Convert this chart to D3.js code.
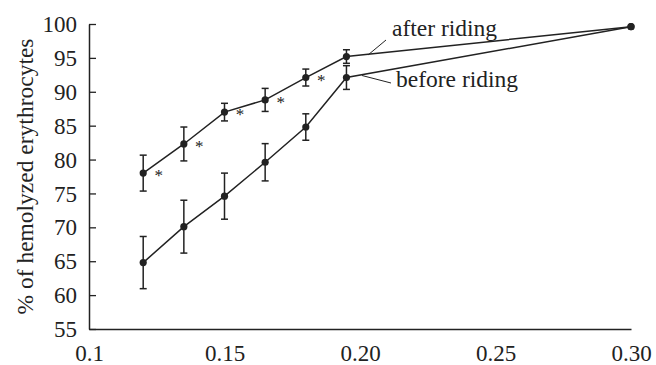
<!DOCTYPE html>
<html>
<head>
<meta charset="utf-8">
<script src="https://cdn.jsdelivr.net/npm/d3@7"></script>
<style>
html,body{margin:0;padding:0;background:#fff;}
svg{display:block;}
text{font-family:"Liberation Serif","Times New Roman",serif;fill:#222;}
</style>
</head>
<body>
<svg id="c" width="656" height="365"></svg>
<script>
// Data
const concentrations = [0.12, 0.135, 0.15, 0.165, 0.18, 0.195, 0.30];
const afterRiding = [78.0, 82.3, 87.0, 88.8, 92.1, 95.2, 99.6];
const afterErr = [2.65, 2.5, 1.3, 1.7, 1.25, 1.0, 0];
const beforeRiding = [64.8, 70.1, 74.6, 79.6, 84.8, 92.1, 99.6];
const beforeErr = [3.85, 3.9, 3.4, 2.75, 1.95, 1.75, 0];
const significant = [true, true, true, true, true, false, false];
const xTickValues = [0.1, 0.15, 0.2, 0.25, 0.3];
const xTickLabels = ["0.1", "0.15", "0.20", "0.25", "0.30"];
const yTickValues = [55, 60, 65, 70, 75, 80, 85, 90, 95, 100];
const yTitle = "% of hemolyzed erythrocytes";
const seriesLabels = ["after riding", "before riding"];

const ink = "#222";
const svg = d3.select("#c");
const x = d3.scaleLinear().domain([0.1, 0.3]).range([89, 631]);
const y = d3.scaleLinear().domain([55, 100]).range([329, 24]);

// Y axis
const yAxis = d3.axisLeft(y).tickValues(yTickValues).tickSizeInner(-7).tickSizeOuter(0).tickPadding(12);
const gy = svg.append("g").attr("transform", `translate(${x(0.1)},0)`).call(yAxis);
gy.select(".domain").attr("stroke", ink).attr("stroke-width", 1.5);
gy.selectAll(".tick line").attr("stroke", ink).attr("stroke-width", 1.3);
gy.selectAll(".tick text").attr("font-size", 23).attr("font-family", "Liberation Serif").attr("fill", ink).attr("dy", "0.33em");

// X axis
const xAxis = d3.axisBottom(x).tickValues(xTickValues).tickSize(0).tickPadding(0)
  .tickFormat((d, i) => xTickLabels[i]);
const gx = svg.append("g").attr("transform", `translate(0,${y(55)})`).call(xAxis);
gx.select(".domain").attr("stroke", ink).attr("stroke-width", 1.5);
gx.selectAll(".tick text").attr("font-size", 23).attr("font-family", "Liberation Serif").attr("fill", ink)
  .attr("y", 32).attr("dy", 0);

// Y title
svg.append("text")
  .attr("transform", `translate(33,${(24 + 329) / 2}) rotate(-90)`)
  .attr("text-anchor", "middle")
  .attr("font-size", 23.5)
  .text(yTitle);

const line = d3.line().x((d, i) => x(concentrations[i])).y(d => y(d));

function drawSeries(vals, errs) {
  const g = svg.append("g");
  g.append("path").datum(vals).attr("d", line).attr("fill", "none").attr("stroke", ink).attr("stroke-width", 1.5);
  vals.forEach((v, i) => {
    if (errs[i] > 0) {
      const cx = x(concentrations[i]);
      const y1 = y(v + errs[i]), y2 = y(v - errs[i]);
      g.append("line").attr("x1", cx).attr("x2", cx).attr("y1", y1).attr("y2", y2).attr("stroke", ink).attr("stroke-width", 1.5);
      g.append("line").attr("x1", cx - 3.5).attr("x2", cx + 3.5).attr("y1", y1).attr("y2", y1).attr("stroke", ink).attr("stroke-width", 1.5);
      g.append("line").attr("x1", cx - 3.5).attr("x2", cx + 3.5).attr("y1", y2).attr("y2", y2).attr("stroke", ink).attr("stroke-width", 1.5);
    }
  });
  g.selectAll("circle").data(vals).join("circle")
    .attr("cx", (d, i) => x(concentrations[i])).attr("cy", d => y(d)).attr("r", 3.6).attr("fill", ink);
}
drawSeries(beforeRiding, beforeErr);
drawSeries(afterRiding, afterErr);

// asterisks
afterRiding.forEach((v, i) => {
  if (significant[i]) {
    svg.append("text").attr("x", x(concentrations[i]) + 15.5).attr("y", y(v) + 8)
      .attr("text-anchor", "middle").attr("font-size", 17).text("*");
  }
});

// Series labels with leaders
svg.append("line").attr("x1", 368).attr("y1", 55).attr("x2", 386).attr("y2", 40).attr("stroke", ink).attr("stroke-width", 1);
svg.append("text").attr("x", 392).attr("y", 36).attr("font-size", 23.5).text(seriesLabels[0]);
svg.append("line").attr("x1", 362).attr("y1", 75.5).attr("x2", 391).attr("y2", 83).attr("stroke", ink).attr("stroke-width", 1);
svg.append("text").attr("x", 396).attr("y", 87).attr("font-size", 23.5).text(seriesLabels[1]);
</script>
</body>
</html>
